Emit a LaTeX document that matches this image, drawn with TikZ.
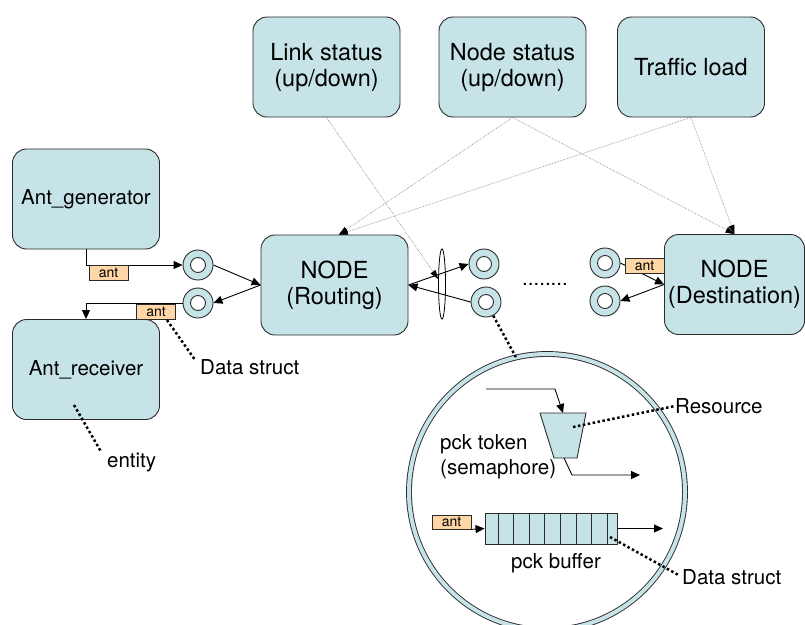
\documentclass[tikz,border=0pt]{standalone}
\usepackage{fontspec}
\setmainfont{TeX Gyre Heros}
\usetikzlibrary{shapes.geometric, arrows.meta, positioning, calc}
\definecolor{cyanfill}{HTML}{C6E4E8}
\definecolor{tagorange}{HTML}{FFD6A6}
\definecolor{edge}{HTML}{2A2A2A}
\definecolor{statgray}{HTML}{7A7A7A}
\tikzset{
  box/.style={rectangle, rounded corners=14pt, draw=edge, line width=0.9pt, fill=cyanfill,
    font=\fontsize{23.5}{26}\selectfont, minimum width=147pt, minimum height=100pt,
    align=center, inner sep=2pt},
  box/ant/.style={box, font=\fontsize{20.5}{24}\selectfont},
  port/.style={circle, draw=edge, line width=0.9pt, fill=cyanfill, minimum size=30pt, inner sep=0pt,
    path picture={\draw[edge, line width=0.9pt, fill=white] (path picture bounding box.center) circle (7.5pt);}},
  tag/.style={rectangle, draw=edge, line width=0.7pt, fill=tagorange,
    font=\fontsize{14}{16}\selectfont, minimum width=39pt, minimum height=15pt, inner sep=0pt},
  lbl/.style={font=\fontsize{20.5}{25}\selectfont, inner sep=0pt, align=left},
  ar/.style={-{Triangle[length=9pt,width=8pt]}, draw=black, line width=0.9pt},
  stat/.style={-{Triangle[length=9pt,width=6pt,black]}, draw=statgray, line width=0.6pt, densely dotted},
  dotl/.style={draw=black, line width=2.5pt, dash pattern=on 2.5pt off 2.5pt},
}

\begin{document}
\begin{tikzpicture}[x=1pt, y=-1pt]
\useasboundingbox (0,0) rectangle (805,624);

% status sources
\node[box] (LinkS) at (326.5,67) {Link status\\(up/down)};
\node[box] (NodeS) at (512.5,67) {Node status\\(up/down)};
\node[box] (Traf)  at (691,67)   {Traffic load};

% ant entities
\node[box/ant] (Gen)  at (86,199)   {Ant\_generator};
\node[box/ant] (Recv) at (86,369.5) {Ant\_receiver};

% network nodes
\node[box] (Rout) at (334.5,285) {NODE\\(Routing)};
\node[box, minimum width=140pt] (Dest) at (734.5,284.5) {NODE\\(Destination)};

\node[port] (PL1) at (198,265) {};
\node[port] (PL2) at (198,303) {};
\node[port] (PR1) at (484,264) {};
\node[port] (PR2) at (486,302) {};
\node[port] (PD1) at (605,263) {};
\node[port] (PD2) at (605,301) {};

\node[ellipse, draw=black, line width=0.8pt, minimum width=7pt, minimum height=70pt,
      inner sep=0pt] (Ell) at (442,284) {};
\node[lbl] (Dots) at (545,284) {........};

% generator / receiver links
\draw[ar] (Gen.south) |- (PL1.west);
\node[tag] (TagA) at (108.5,273) {ant};
\draw[ar] (PL1.east) -- (Rout.west);
\draw[ar] (Rout.west) -- (PL2.east);
\draw[ar] (PL2.west) -| (Recv.north);
\node[tag] (TagB) at (156,311.5) {ant};

\node[lbl, anchor=west] (DS1) at (200,367) {Data struct};
\node[lbl, anchor=west] (Ent) at (107,462) {entity};
\coordinate (TagBpt) at (167,320);
\coordinate (RecvPt) at (74,405);
\draw[dotl, shorten >=8pt] (TagBpt) -- (DS1.west);
\draw[dotl, shorten >=12pt] (RecvPt) -- (Ent.west);

% routing node ports
\draw[ar] (Rout.east) -- (PR1.west);
\draw[ar] (PR2.west) -- (Rout.east);

% destination ports
\draw[ar] (PD1.east) -- (Dest.west);
\draw[ar] (Dest.west) -- (PD2.east);
\node[tag] (TagC) at (644.5,265.5) {ant};

% status influence
\draw[stat] (LinkS.south) -- (Ell.128);
\draw[stat] (NodeS.south) -- (Rout.85);
\draw[stat] (Traf.south) -- (Rout.85);
\draw[stat] (NodeS.south) -- (Dest.north);
\draw[stat] (Traf.south) -- (Dest.north);

% magnified port
\node[circle, draw=edge, line width=0.9pt, double=cyanfill, double distance=4pt,
      minimum size=276pt, inner sep=0pt] (Mag) at (547,492) {};
\draw[dotl] (PR2.-62) -- (Mag.103);

% token (semaphore)
\coordinate (TokTL) at (540,413);
\coordinate (TokTR) at (586,413);
\coordinate (TokBR) at (577,458);
\coordinate (TokBL) at (554,458);
\coordinate (TokTop) at (563,413);
\coordinate (TokBot) at (564,458);
\draw[edge, line width=0.9pt, fill=cyanfill] (TokTL) -- (TokTR) -- (TokBR) -- (TokBL) -- cycle;
\coordinate (TokIn) at (486,389);
\coordinate (TokOut) at (640,475);
\draw[ar] (TokIn) -- (555,389) -- (TokTop);
\draw[ar] (TokBot) -- (572,475) -- (TokOut);
\node[lbl, anchor=west] (TokLbl) at (440,457) {pck token\\(semaphore)};
\node[lbl, anchor=west] (Res) at (675,406) {Resource};
\coordinate (TokPt) at (573,427);
\draw[dotl] (TokPt) -- (Res.west);

% packet buffer
\node[rectangle, draw=edge, line width=0.9pt, fill=cyanfill, minimum width=132pt,
      minimum height=31pt, inner sep=0pt] (Buf) at (551,528.5) {};
\foreach \bx in {498,513,529,544,560,576,591,607}
  \draw[edge, line width=0.9pt] (\bx,513) -- (\bx,544);
\node[tag, minimum height=14pt] (TagD) at (451.5,522) {ant};
\draw[ar] (TagD.south east) -- (Buf.west);
\coordinate (BufOut) at (663,528.5);
\draw[ar] (Buf.east) -- (BufOut);
\node[lbl] (BufLbl) at (556,563) {pck buffer};
\node[lbl, anchor=west] (DS2) at (682,577) {Data struct};
\coordinate (BufPt) at (610,537);
\draw[dotl, shorten >=3pt] (BufPt) -- (DS2.west);

\end{tikzpicture}
\end{document}
